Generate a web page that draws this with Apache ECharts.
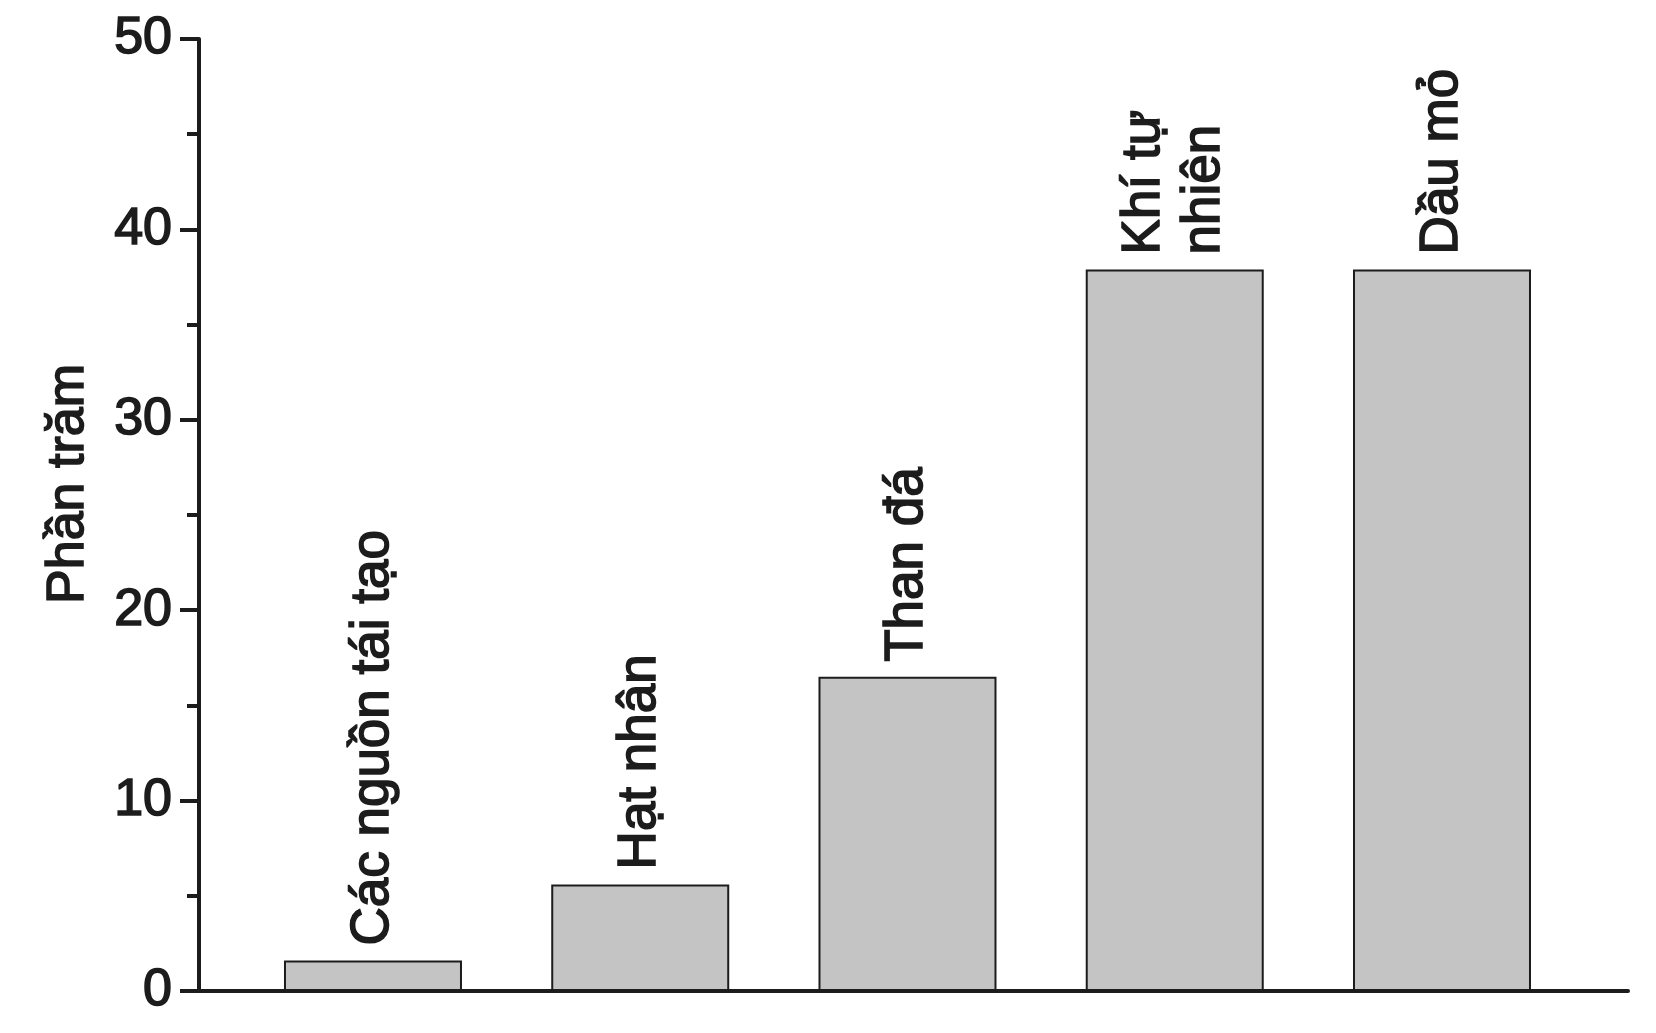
<!DOCTYPE html>
<html>
<head>
<meta charset="utf-8">
<script src="https://cdn.jsdelivr.net/npm/echarts@6/dist/echarts.min.js"></script>
<style>
html,body{margin:0;padding:0;background:#fff;}
#c{width:1656px;height:1033px;}
</style>
</head>
<body>
<div id="c"></div>
<script>
var categories = ['Các nguồn tái tạo', 'Hạt nhân', 'Than đá', 'Khí tự\nnhiên', 'Dầu mỏ'];
var values = [1.6, 5.6, 16.5, 37.9, 37.9];
var yTicks = [0, 10, 20, 30, 40, 50];
var yAxisName = 'Phần trăm';

var FONT = '"Liberation Sans", Arial, Helvetica, sans-serif';
var INK = '#1c1c1c';

var chart = echarts.init(document.getElementById('c'), null, {renderer: 'canvas'});
var data = values.map(function (v, i) {
  return {value: [i + 1, v], label: {formatter: categories[i]}};
});

chart.setOption({
  animation: false,
  backgroundColor: '#ffffff',
  grid: {left: 199, right: 28, top: 39, bottom: 42, containLabel: false},
  xAxis: {
    type: 'value',
    min: 0.349,
    max: 5.696,
    axisLine: {show: true, onZero: false, lineStyle: {color: INK, width: 4}},
    axisTick: {show: false},
    axisLabel: {show: false},
    splitLine: {show: false}
  },
  yAxis: {
    type: 'value',
    min: yTicks[0],
    max: yTicks[yTicks.length - 1],
    interval: 10,
    name: yAxisName,
    nameLocation: 'middle',
    nameRotate: 90,
    nameGap: 104,
    nameTextStyle: {
      fontFamily: FONT, fontSize: 52, color: INK,
      textBorderColor: INK, textBorderWidth: 1.6,
      padding: [0, 0, 0, 62]
    },
    axisLine: {show: true, lineStyle: {color: INK, width: 4}},
    axisTick: {show: true, inside: false, length: 19, lineStyle: {color: INK, width: 4}},
    minorTick: {show: true, splitNumber: 2, length: 12, lineStyle: {color: INK, width: 4}},
    axisLabel: {
      margin: 27, fontFamily: FONT, fontSize: 52, color: INK,
      textBorderColor: INK, textBorderWidth: 1.6
    },
    splitLine: {show: false}
  },
  series: [{
    type: 'bar',
    barWidth: 178,
    data: data,
    itemStyle: {color: '#c4c4c4', borderColor: INK, borderWidth: 2},
    label: {
      show: true,
      position: 'top',
      rotate: 90,
      align: 'left',
      verticalAlign: 'middle',
      distance: 15,
      fontFamily: FONT,
      fontSize: 53,
      lineHeight: 60,
      color: INK,
      textBorderColor: INK,
      textBorderWidth: 1.6
    }
  }]
});
</script>
</body>
</html>
